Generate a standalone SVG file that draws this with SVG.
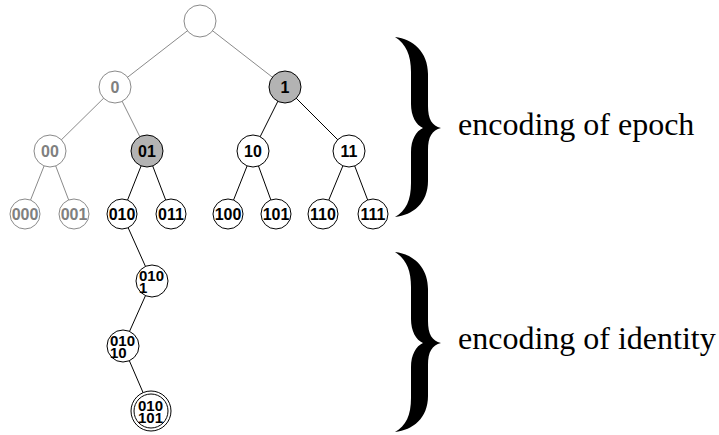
<svg xmlns="http://www.w3.org/2000/svg" width="719" height="435" viewBox="0 0 719 435">
<style>
.e{stroke:#000;stroke-width:1;fill:none}
.eg{stroke:#8a8a8a;stroke-width:1;fill:none}
.n{fill:#fff;stroke:#000;stroke-width:1}
.ng{fill:#fff;stroke:#8a8a8a;stroke-width:1}
.ns{fill:#b3b3b3;stroke:#000;stroke-width:1}
.t{font-family:"Liberation Sans",Arial,sans-serif;font-weight:bold;font-size:16px;fill:#000;text-anchor:middle}
.tg{font-family:"Liberation Sans",Arial,sans-serif;font-weight:bold;font-size:16px;fill:#808080;text-anchor:middle}
.tl{font-family:"Liberation Sans",Arial,sans-serif;font-weight:bold;font-size:15px;fill:#000}
.lab{font-family:"Liberation Serif","Times New Roman",serif;font-size:32px;fill:#000}
.br{fill:#000;stroke:none}
</style>
<defs>
<path id="brace" d="M395,37 C413,39 428,52 428,74 L428,106 C428,119 432,126 441,128 C432,130 428,137 428,150 L428,181 C428,203 413,215 395,217 C406,211 411,200 411,183 L411,152 C411,140 416,131 423,128 C416,125 411,116 411,104 L411,72 C411,55 406,44 395,37 Z"/>
</defs>
<g id="connectors">
<line class="eg" x1="200" y1="21" x2="115" y2="87"/>
<line class="eg" x1="200" y1="21" x2="285" y2="87"/>
<line class="eg" x1="115" y1="87" x2="50" y2="151"/>
<line class="eg" x1="115" y1="87" x2="147" y2="151"/>
<line class="e" x1="285" y1="87" x2="253" y2="151"/>
<line class="e" x1="285" y1="87" x2="349" y2="151"/>
<line class="eg" x1="50" y1="151" x2="25" y2="214"/>
<line class="eg" x1="50" y1="151" x2="74" y2="214"/>
<line class="e" x1="147" y1="151" x2="122" y2="214"/>
<line class="e" x1="147" y1="151" x2="171" y2="214"/>
<line class="e" x1="253" y1="151" x2="228" y2="214"/>
<line class="e" x1="253" y1="151" x2="276" y2="214"/>
<line class="e" x1="349" y1="151" x2="323" y2="214"/>
<line class="e" x1="349" y1="151" x2="373" y2="214"/>
<line class="e" x1="122" y1="214" x2="152" y2="281"/>
<line class="e" x1="152" y1="281" x2="123" y2="346"/>
<line class="e" x1="123" y1="346" x2="151" y2="411"/>
</g>
<g id="root"><circle class="ng" cx="200" cy="21" r="16"/></g>
<g id="n0"><circle class="ng" cx="115" cy="87" r="16"/><text class="tg" x="115" y="93">0</text></g>
<g id="n1"><circle class="ns" cx="285" cy="87" r="16"/><text class="t" x="285" y="93">1</text></g>
<g id="n00"><circle class="ng" cx="50" cy="151" r="16"/><text class="tg" x="50" y="157">00</text></g>
<g id="n01"><circle class="ns" cx="147" cy="151" r="16"/><text class="t" x="147" y="157">01</text></g>
<g id="n10"><circle class="n" cx="253" cy="151" r="16"/><text class="t" x="253" y="157">10</text></g>
<g id="n11"><circle class="n" cx="349" cy="151" r="16"/><text class="t" x="349" y="157">11</text></g>
<g id="n000"><circle class="ng" cx="25" cy="214" r="15"/><text class="tg" x="25" y="220">000</text></g>
<g id="n001"><circle class="ng" cx="74" cy="214" r="15"/><text class="tg" x="74" y="220">001</text></g>
<g id="n010"><circle class="n" cx="122" cy="214" r="15"/><text class="t" x="122" y="220">010</text></g>
<g id="n011"><circle class="n" cx="171" cy="214" r="15"/><text class="t" x="171" y="220">011</text></g>
<g id="n100"><circle class="n" cx="228" cy="214" r="15"/><text class="t" x="228" y="220">100</text></g>
<g id="n101"><circle class="n" cx="276" cy="214" r="15"/><text class="t" x="276" y="220">101</text></g>
<g id="n110"><circle class="n" cx="323" cy="214" r="15"/><text class="t" x="323" y="220">110</text></g>
<g id="n111"><circle class="n" cx="373" cy="214" r="15"/><text class="t" x="373" y="220">111</text></g>
<g id="n0101"><circle class="n" cx="152" cy="281" r="16"/><text class="tl" x="139" y="280.5">010</text><text class="tl" x="139" y="292.5">1</text></g>
<g id="n01010"><circle class="n" cx="123" cy="346" r="16"/><text class="tl" x="110" y="345.5">010</text><text class="tl" x="110" y="357.5">10</text></g>
<g id="n010101"><circle class="n" cx="151" cy="411" r="20"/><circle class="n" cx="151" cy="411" r="17"/><text class="tl" x="138" y="410.5">010</text><text class="tl" x="138" y="422.5">101</text></g>
<g id="epoch"><use href="#brace" class="br"/><text class="lab" x="458" y="135">encoding of epoch</text></g>
<g id="identity"><use href="#brace" class="br" transform="translate(0,215)"/><text class="lab" x="458" y="349">encoding of identity</text></g>
</svg>
